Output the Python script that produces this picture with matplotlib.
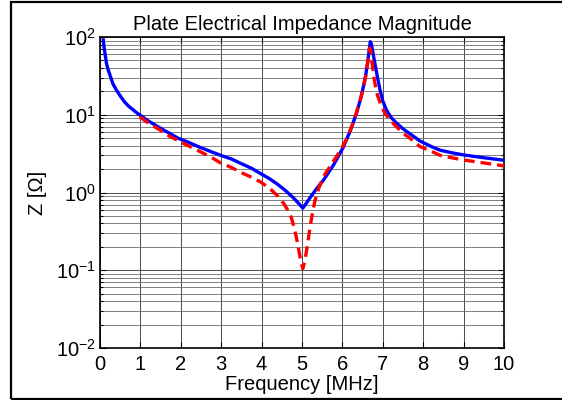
import matplotlib
matplotlib.use('Agg')
import matplotlib.pyplot as plt
from matplotlib.patches import Rectangle
from matplotlib.ticker import LogLocator, MultipleLocator, NullFormatter

plt.rcParams['font.family'] = ['Liberation Sans', 'DejaVu Sans']
plt.rcParams['mathtext.fontset'] = 'custom'
plt.rcParams['mathtext.rm'] = 'Liberation Sans'
plt.rcParams['mathtext.it'] = 'Liberation Sans:italic'

# blue solid curve (MHz, ohm)
freq_blue = [0.08, 0.1, 0.13, 0.16, 0.2, 0.25, 0.32, 0.4, 0.5, 0.6, 0.7, 0.8, 0.9, 1.0,
             1.2, 1.5, 1.93, 2.2, 2.48, 2.75, 2.97, 3.25, 3.5, 3.75, 3.96, 4.2, 4.4, 4.6,
             4.78, 4.9, 5.02, 5.1, 5.2, 5.35, 5.53, 5.78, 6.02, 6.2, 6.35, 6.45, 6.52, 6.58,
             6.62, 6.66, 6.69, 6.72, 6.75, 6.81, 6.87, 6.93, 7.0, 7.09, 7.2, 7.34, 7.5, 7.67,
             7.92, 8.2, 8.42, 8.7, 9.0, 9.5, 10.0]
z_blue = [92, 75, 58, 46, 38, 32, 25, 21, 17.5, 14.8, 13, 11.8, 10.7, 9.8,
          8.3, 6.7, 5.0, 4.4, 3.8, 3.35, 3.03, 2.7, 2.35, 2.05, 1.77, 1.5, 1.27, 1.05,
          0.86, 0.74, 0.63, 0.72, 0.86, 1.1, 1.44, 2.26, 3.8, 6.3, 10.5, 16, 23, 33,
          46, 65, 87, 80, 65, 44, 30, 21, 15, 11.5, 9.3, 7.8, 6.6, 5.7,
          4.6, 3.9, 3.5, 3.25, 3.04, 2.8, 2.6]

# red dashed curve
freq_red = [0.98, 1.2, 1.5, 1.72, 2.1, 2.48, 2.75, 2.97, 3.25, 3.5, 3.75, 3.96, 4.2, 4.4,
            4.55, 4.66, 4.74, 4.82, 4.9, 4.97, 5.02, 5.08, 5.14, 5.2, 5.26, 5.32, 5.42, 5.53,
            5.75, 5.94, 6.1, 6.25, 6.4, 6.5, 6.58, 6.64, 6.67, 6.7, 6.73, 6.79, 6.85, 6.95,
            7.05, 7.2, 7.34, 7.5, 7.67, 7.92, 8.2, 8.42, 8.7, 9.0, 9.5, 10.0]
z_red = [9.4, 7.8, 6.3, 5.3, 4.2, 3.35, 2.85, 2.42, 2.1, 1.8, 1.57, 1.38, 1.13, 0.9,
         0.72, 0.58, 0.47, 0.33, 0.21, 0.13, 0.105, 0.14, 0.22, 0.36, 0.55, 0.78, 1.15, 1.6,
         2.4, 3.4, 4.8, 7.5, 13, 20, 32, 52, 72, 68, 48, 28, 19, 13.5,
         10.5, 8.3, 7.0, 5.8, 5.0, 3.9, 3.4, 3.0, 2.8, 2.62, 2.4, 2.2]

fig = plt.figure(figsize=(5.62, 4.0), dpi=100)
ax = fig.add_axes([100 / 562, 1 - 348 / 400, 404 / 562, 311 / 400])

ax.semilogy(freq_blue, z_blue, color='#0000ff', lw=2.4, solid_joinstyle='round', zorder=3)
ax.semilogy(freq_red, z_red, color='#ff0000', lw=2.4, ls=(0, (3.2, 1.8)), zorder=4)

ax.set_xlim(0, 10)
ax.set_ylim(1e-2, 1e2)
ax.xaxis.set_major_locator(MultipleLocator(1))
ax.yaxis.set_major_locator(LogLocator(base=10, numticks=10))
ax.yaxis.set_minor_locator(LogLocator(base=10, subs=range(2, 10), numticks=10))
ax.yaxis.set_minor_formatter(NullFormatter())

ax.grid(True, which='major', color='#4a4a4a', lw=0.7)
ax.grid(True, which='minor', axis='y', color='#6a6a6a', lw=0.6)
ax.set_axisbelow(True)

ax.tick_params(which='both', direction='in', top=True, right=True, labelsize=14.5,
               width=0.8, color='black')
ax.tick_params(which='major', length=4)
ax.tick_params(which='minor', length=2.5)
ax.tick_params(axis='x', pad=5)
ax.tick_params(axis='y', pad=3)
for s in ax.spines.values():
    s.set_linewidth(1.2)

ax.set_title('Plate Electrical Impedance Magnitude', fontsize=14.5, pad=5)
ax.set_xlabel('Frequency [MHz]', fontsize=14.5, labelpad=1)
ax.set_ylabel('Z [Ω]', fontsize=14.5, labelpad=6)

# outer frame, open on the right like the original capture
fig.patches.append(Rectangle((11 / 562, 1.5 / 400), 600 / 562, 397 / 400,
                             transform=fig.transFigure, fill=False,
                             edgecolor='black', lw=1.6))

fig.savefig('out.png', dpi=100)
